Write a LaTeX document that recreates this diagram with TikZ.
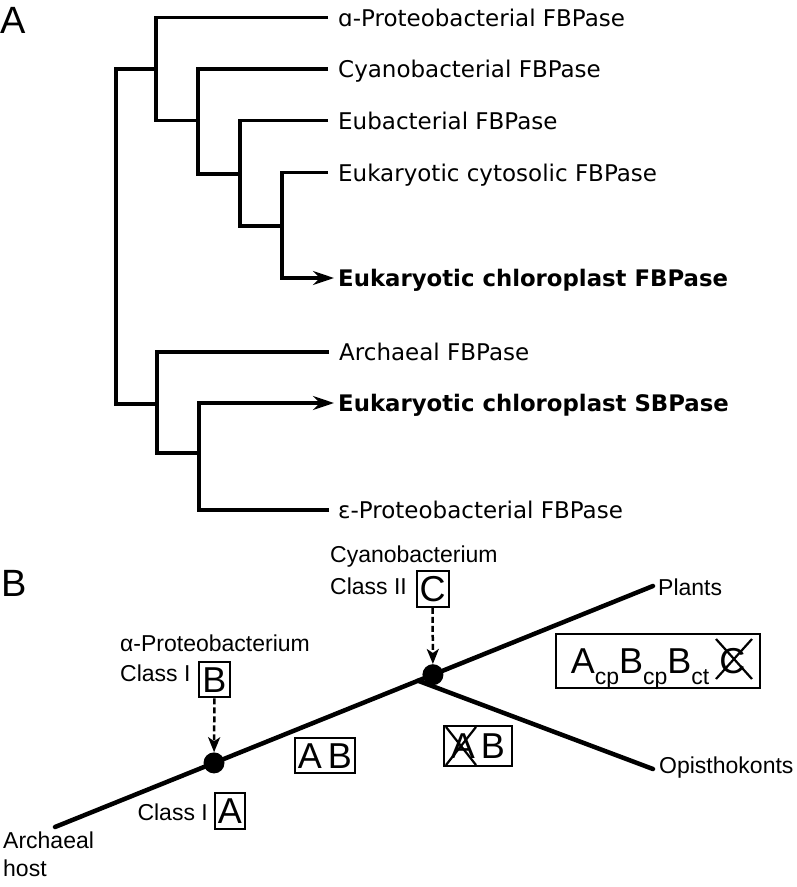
\documentclass[tikz,border=0pt]{standalone}
\usepackage{fontspec}
\setmainfont{DejaVu Sans}
\newfontfamily\arialf{Liberation Sans}
\usetikzlibrary{arrows.meta,calc}
\newcommand{\subt}[1]{\raisebox{-0.3em}{\fontsize{23}{23}\selectfont #1}}
\begin{document}
\begin{tikzpicture}[x=1pt,y=-1pt,
  tree/.style={line width=3.2pt, line join=miter, line cap=butt},
  treetip/.style={-{Stealth[length=21pt,width=14pt,inset=7pt]}},
  leaf/.style={anchor=base west, yshift=-8.6pt, inner sep=0pt, font=\fontsize{23}{27}\selectfont},
  bleaf/.style={leaf, font=\fontsize{22.8}{27}\selectfont\bfseries},
  panel/.style={inner sep=0pt, anchor=north west, font=\arialf\fontsize{38}{38}\selectfont},
  btext/.style={inner sep=0pt, font=\arialf\fontsize{23}{28}\selectfont},
  branch/.style={line width=4.5pt, line cap=round},
  gbox/.style={draw, line width=2pt, inner xsep=3pt, inner ysep=5pt, text height=25.5pt, text depth=0pt, font=\arialf\fontsize{36}{36}\selectfont},
  dot/.style={circle, fill=black, inner sep=0pt, minimum size=21pt},
  dasharrow/.style={line width=2.5pt, dash pattern=on 6pt off 3pt, -{Stealth[length=15pt,width=12pt,inset=4pt]}},
  cross/.style={line width=2.2pt}
]
\useasboundingbox[fill=white] (0,0) rectangle (796,887);

% ---------- Panel A ----------
\node[panel] (pa) at (0,7) {A};

\coordinate (ta) at (328,17.5);
\coordinate (tc) at (328,69);
\coordinate (te) at (328,120.5);
\coordinate (tk) at (328,172.5);
\coordinate (tf) at (334,278);
\coordinate (tar) at (329,352);
\coordinate (ts) at (334,403);
\coordinate (tp) at (329,510);

\coordinate (i1) at (156,69);
\coordinate (i2) at (198,120.5);
\coordinate (i3) at (240,174);
\coordinate (i4) at (282,226);
\coordinate (root) at (116,236);
\coordinate (i5) at (157,404);
\coordinate (i6) at (199,453);

\draw[tree] (ta) -| (i1) |- (i2);
\draw[tree] (tc) -| (i2) |- (i3);
\draw[tree] (te) -| (i3) |- (i4);
\draw[tree,treetip] (tk) -| (i4) |- (tf);
\draw[tree] (i1) -| (root) |- (i5);
\draw[tree] (tar) -| (i5) |- (i6);
\draw[tree,treetip] (tp) -| (i6) |- (ts);

\node[leaf] (la) at ([xshift=10pt]ta) {ɑ-Proteobacterial FBPase};
\node[leaf] (lc) at ([xshift=10pt]tc) {Cyanobacterial FBPase};
\node[leaf] (le) at ([xshift=10pt]te) {Eubacterial FBPase};
\node[leaf] (lk) at ([xshift=10pt]tk) {Eukaryotic cytosolic FBPase};
\node[bleaf] (lf) at ([xshift=4pt]tf) {Eukaryotic chloroplast FBPase};
\node[leaf] (lar) at ([xshift=10pt]tar) {Archaeal FBPase};
\node[bleaf] (ls) at ([xshift=4pt]ts) {Eukaryotic chloroplast SBPase};
\node[leaf] (lp) at ([xshift=9pt]tp) {ε-Proteobacterial FBPase};

% ---------- Panel B ----------
\node[panel] (pb) at (1,570) {B};

\coordinate (host) at (55,827);
\coordinate (plants) at (653,586);
\coordinate (junc) at ($(host)!0.607!(plants)$);
\coordinate (opis) at (653,769);

\draw[branch] (host) -- (plants);
\draw[branch] (junc) -- (opis);

\node[dot] (dB) at ($(host)!0.2659!(plants)$) {};
\node[dot] (dC) at ($(host)!0.632!(plants)$) {};

\node[gbox] (boxB) at (214.5,679.5) {B};
\node[gbox] (boxC) at (432.5,589) {C};
\node[gbox] (boxA) at (230,811) {A};
\node[gbox, minimum width=60pt] (boxAB) at (325,755.5) {A\,B};
\node[gbox, minimum width=68pt, minimum height=40pt] (boxXB) at (478,746) {A\hspace{6pt}B};
\node[gbox, minimum width=204pt, minimum height=54pt] (boxBig) at (658,661)
  {A\subt{cp}B\subt{cp}B\subt{ct}\hspace{10pt}C};

\draw[cross] ([shift={(3,2)}]boxXB.north west) -- ([shift={(33,-2)}]boxXB.south west);
\draw[cross] ([shift={(3,-2)}]boxXB.south west) -- ([shift={(33,2)}]boxXB.north west);
\draw[cross] ([shift={(-45,6)}]boxBig.north east) -- ([shift={(-9,-10)}]boxBig.south east);
\draw[cross] ([shift={(-45,-10)}]boxBig.south east) -- ([shift={(-9,6)}]boxBig.north east);

\draw[dasharrow] (boxB) -- (dB);
\draw[dasharrow] (boxC) -- (dC);

\node[btext, anchor=west] (tB1) at (120,643) {α-Proteobacterium};
\node[btext, anchor=west] (tB2) at (120,673) {Class I};
\node[btext, anchor=east] (tA) at (208,812) {Class I};
\node[btext, anchor=west] (tC1) at (330,557) {Cyanobacterium};
\node[btext, anchor=west] (tC2) at (330,586) {Class II};
\node[btext, anchor=west] (tPl) at (658,587) {Plants};
\node[btext, anchor=west] (tOp) at (659,768) {Opisthokonts};
\node[btext, anchor=north west, align=left] (tH) at (3,832) {Archaeal\\host};
\end{tikzpicture}
\end{document}
